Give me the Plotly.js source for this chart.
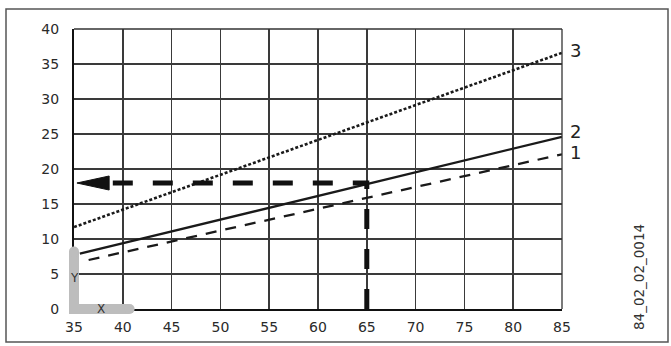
<!DOCTYPE html>
<html><head><meta charset="utf-8">
<script src="https://cdn.plot.ly/plotly-3.0.1.min.js"></script>
<style>html,body{margin:0;padding:0;background:#fff}#c{width:671px;height:346px}</style>
</head><body><div id="c"></div>
<script>
// Data
var line1X = [36.5, 85], line1Y = [7.0, 22.1];
var line2X = [35.6, 85], line2Y = [7.9, 24.6];
var line3X = [35, 85], line3Y = [11.7, 36.6];
var guideX = [65, 65, 38.4], guideY = [0, 18, 18];
var arrowX = [35.3, 38.6, 38.6, 35.3], arrowY = [18, 19.0, 17.0, 18];
var axisMarkX = [35, 35, 40.7], axisMarkY = [8.2, 0, 0];
var xTicks = [35, 40, 45, 50, 55, 60, 65, 70, 75, 80, 85];
var yTicks = [0, 5, 10, 15, 20, 25, 30, 35, 40];
var curveLabels = ['1', '2', '3'];
var curveLabelY = [22.3, 25.4, 37.0];

var xRange = [35, 85], yRange = [0, 40];
function px(v) { return (v - xRange[0]) / (xRange[1] - xRange[0]); }
function py(v) { return (v - yRange[0]) / (yRange[1] - yRange[0]); }

var ink = '#1a1a1a';
var gray = '#bdbdbd';
var traces = [
  {x: line3X, y: line3Y, mode: 'lines', line: {color: ink, width: 2.6, dash: '3px,2px'}},
  {x: line2X, y: line2Y, mode: 'lines', line: {color: ink, width: 2.3}},
  {x: line1X, y: line1Y, mode: 'lines', line: {color: ink, width: 2.3, dash: '11px,9px'}},
  {x: guideX, y: guideY, mode: 'lines', line: {color: '#111', width: 5, dash: '20px,20px'}},
  {x: arrowX, y: arrowY, mode: 'lines', fill: 'toself', fillcolor: '#111', line: {color: '#111', width: 1}}
];

// gray axis-orientation mark (paper referenced so it is not clipped)
var lPath = 'M' + axisMarkX.map(function (v, i) { return px(v) + ',' + py(axisMarkY[i]); }).join(' L');
var shapes = [
  {type: 'rect', xref: 'paper', yref: 'paper',
   x0: (6 - 74) / 488, x1: (668 - 74) / 488, y0: (309 - 342) / 280, y1: (309 - 9) / 280,
   line: {color: '#555', width: 1.5}, fillcolor: 'rgba(0,0,0,0)'},
  {type: 'line', xref: 'paper', yref: 'paper', x0: 1, x1: 1, y0: 0, y1: 1, line: {color: '#333', width: 1.3}},
  {type: 'line', xref: 'paper', yref: 'paper', x0: 0, x1: 1, y0: 1, y1: 1, line: {color: '#333', width: 1.3}},
  {type: 'path', xref: 'paper', yref: 'paper', path: lPath, layer: 'above',
   line: {color: gray, width: 10}, fillcolor: 'rgba(0,0,0,0)'}
];
[0, axisMarkX.length - 1].forEach(function (k) {
  shapes.push({type: 'circle', xref: 'paper', yref: 'paper', xsizemode: 'pixel', ysizemode: 'pixel',
    xanchor: px(axisMarkX[k]), yanchor: py(axisMarkY[k]), x0: -5, x1: 5, y0: -5, y1: 5,
    layer: 'above', line: {width: 0}, fillcolor: gray});
});
// square corner
shapes.push({type: 'rect', xref: 'paper', yref: 'paper', xsizemode: 'pixel', ysizemode: 'pixel',
  xanchor: px(axisMarkX[1]), yanchor: py(axisMarkY[1]), x0: -5, x1: 5, y0: -5, y1: 5,
  layer: 'above', line: {width: 0}, fillcolor: gray});

var annotations = [
  {x: 35, y: 0, xref: 'x', yref: 'y', text: 'X', showarrow: false, xshift: 27, yshift: 0,
   font: {family: 'DejaVu Sans', size: 12, color: '#333'}},
  {x: 35, y: 4.4, xref: 'x', yref: 'y', text: 'Y', showarrow: false, xshift: 0,
   font: {family: 'DejaVu Sans', size: 12, color: '#333'}},
  {x: 1.0, y: 0.5, xref: 'paper', yref: 'paper', text: '84_02_02_0014', textangle: -90,
   showarrow: false, xshift: 87, yshift: -108, font: {family: 'DejaVu Sans', size: 13.5, color: '#333'}}
];
for (var i = 0; i < curveLabels.length; i++) {
  annotations.push({x: 85, y: curveLabelY[i], xref: 'x', yref: 'y', text: curveLabels[i],
    showarrow: false, xanchor: 'left', xshift: 6,
    font: {family: 'DejaVu Sans', size: 18, color: '#222'}});
}

var layout = {
  width: 671, height: 346,
  margin: {l: 74, r: 109, t: 29, b: 37},
  paper_bgcolor: '#fff', plot_bgcolor: '#fff',
  showlegend: false,
  xaxis: {range: xRange, tickvals: xTicks, ticktext: xTicks.map(String), showgrid: true,
    gridcolor: '#3a3a3a', gridwidth: 1.5, zeroline: false, showline: true, linecolor: '#111',
    linewidth: 2, mirror: false, layer: 'below traces', ticks: '', ticklabelstandoff: 4,
    tickfont: {family: 'DejaVu Sans', size: 14, color: '#2a2a2a'}},
  yaxis: {range: yRange, tickvals: yTicks, ticktext: yTicks.map(String), showgrid: true,
    gridcolor: '#3a3a3a', gridwidth: 1.5, zeroline: false, showline: true, linecolor: '#111',
    linewidth: 2, layer: 'below traces', ticks: '', ticklabelstandoff: 10,
    tickfont: {family: 'DejaVu Sans', size: 14, color: '#2a2a2a'}},
  shapes: shapes,
  annotations: annotations
};
Plotly.newPlot('c', traces, layout, {displayModeBar: false, staticPlot: true});
</script></body></html>
